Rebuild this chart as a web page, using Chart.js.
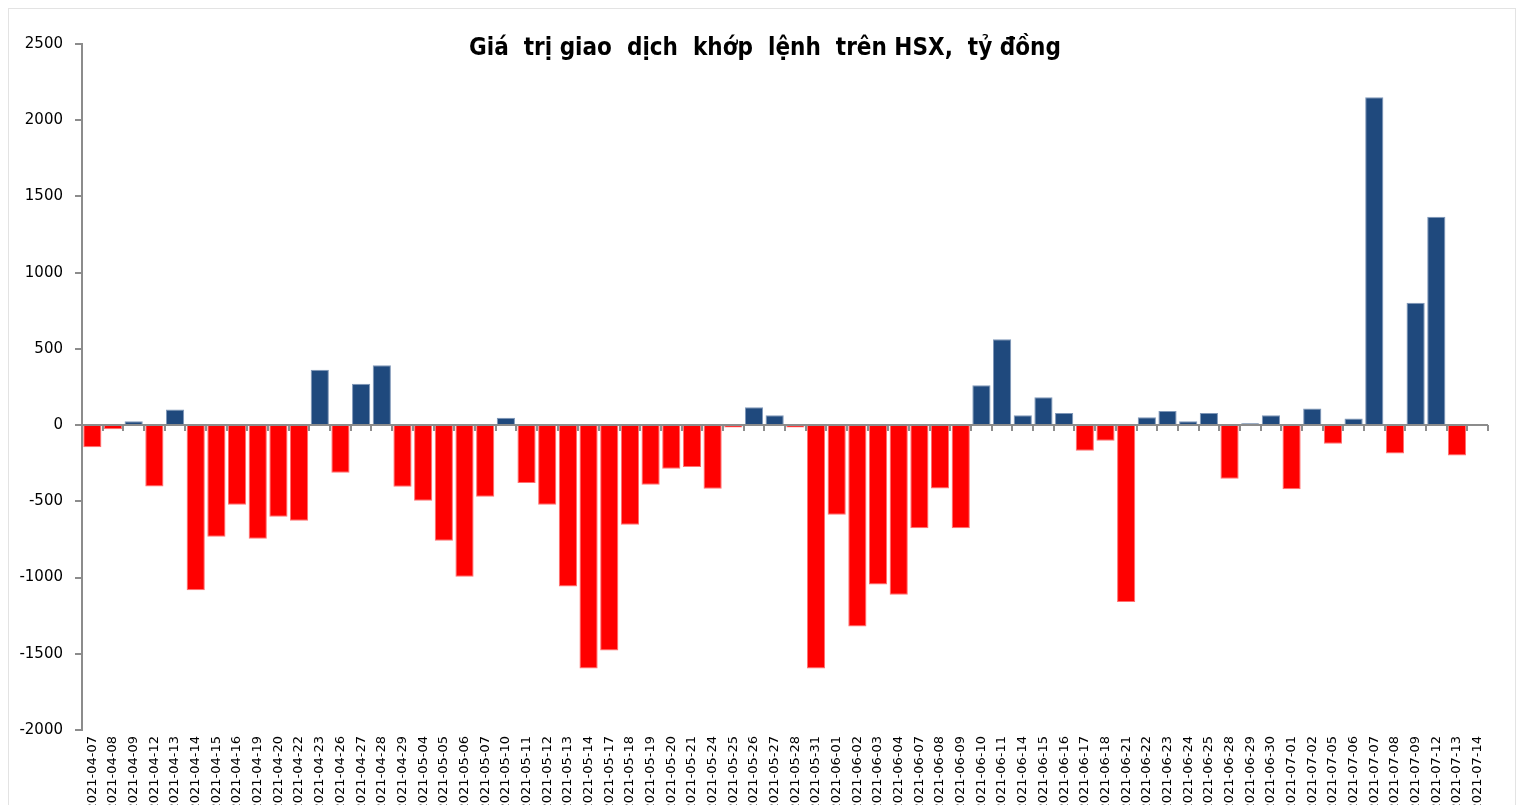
<!DOCTYPE html>
<html lang="vi">
<head>
<meta charset="utf-8">
<title>Giá trị giao dịch khớp lệnh trên HSX</title>
<script src="https://cdn.jsdelivr.net/npm/chart.js@4.4.0/dist/chart.umd.min.js"></script>
<style>
    html, body {
        margin: 0;
        padding: 0;
        background: #fff;
        overflow: hidden;
    }
    .wrap {
        position: relative;
        width: 1523px;
        height: 805px;
    }
    .frame {
        position: absolute;
        left: 8px;
        top: 8px;
        width: 1508px;
        height: 820px;
        border: 1px solid #e3e3e3;
        box-sizing: border-box;
    }
    .chart-title {
        position: absolute;
        left: 0;
        width: 1530px;
        top: 33px;
        text-align: center;
        font-family: "DejaVu Sans Condensed", "DejaVu Sans", sans-serif;
        font-weight: bold;
        font-size: 24px;
        white-space: pre;
        color: #000;
    }
</style>
</head>
<body>
<div class="wrap">
    <div class="frame"></div>
    <canvas id="hsxChart"></canvas>
    <div class="chart-title">Giá  trị giao  dịch  khớp  lệnh  trên HSX,  tỷ đồng</div>
</div>
<script>
// Trading days (x categories)
const dates = [
    '2021-04-07', '2021-04-08', '2021-04-09', '2021-04-12', '2021-04-13', '2021-04-14',
    '2021-04-15', '2021-04-16', '2021-04-19', '2021-04-20', '2021-04-22', '2021-04-23',
    '2021-04-26', '2021-04-27', '2021-04-28', '2021-04-29', '2021-05-04', '2021-05-05',
    '2021-05-06', '2021-05-07', '2021-05-10', '2021-05-11', '2021-05-12', '2021-05-13',
    '2021-05-14', '2021-05-17', '2021-05-18', '2021-05-19', '2021-05-20', '2021-05-21',
    '2021-05-24', '2021-05-25', '2021-05-26', '2021-05-27', '2021-05-28', '2021-05-31',
    '2021-06-01', '2021-06-02', '2021-06-03', '2021-06-04', '2021-06-07', '2021-06-08',
    '2021-06-09', '2021-06-10', '2021-06-11', '2021-06-14', '2021-06-15', '2021-06-16',
    '2021-06-17', '2021-06-18', '2021-06-21', '2021-06-22', '2021-06-23', '2021-06-24',
    '2021-06-25', '2021-06-28', '2021-06-29', '2021-06-30', '2021-07-01', '2021-07-02',
    '2021-07-05', '2021-07-06', '2021-07-07', '2021-07-08', '2021-07-09', '2021-07-12',
    '2021-07-13', '2021-07-14'
];

// Net matched value, billion VND
const netValues = [
    -145, -27, 25, -403, 103, -1084,
    -732, -523, -745, -601, -627, 363,
    -313, 272, 392, -405, -496, -758,
    -994, -470, 48, -380, -523, -1059,
    -1597, -1479, -654, -392, -287, -274,
    -418, -15, 117, 64, -15, -1597,
    -588, -1321, -1046, -1112, -677, -415,
    -677, 262, 563, 65, 183, 79,
    -168, -103, -1161, 52, 92, 26,
    79, -352, 13, 65, -420, 109,
    -122, 44, 2150, -187, 803, 1367,
    -200, null
];

// Y axis ticks
const yMin = -2000;
const yMax = 2500;
const yStep = 500;

const BUY_COLOR = '#1F497D';
const SELL_COLOR = '#FF0000';
const AXIS_COLOR = '#8C8C8C';

// Zero line with category tick marks (Excel style axis crossing at 0)
const zeroAxisPlugin = {
    id: 'zeroAxis',
    afterDatasetsDraw(chart) {
        const { ctx, chartArea, scales } = chart;
        const x = scales.x;
        const y0 = scales.y.getPixelForValue(0);
        const step = (chartArea.right - chartArea.left) / dates.length;
        ctx.save();
        ctx.strokeStyle = AXIS_COLOR;
        ctx.lineWidth = 2;
        ctx.beginPath();
        ctx.moveTo(chartArea.left, y0);
        ctx.lineTo(chartArea.right, y0);
        for (let i = 1; i <= dates.length; i++) {
            const bx = Math.round(x.getPixelForValue(i - 1) + step / 2);
            ctx.moveTo(bx, y0);
            ctx.lineTo(bx, y0 + 6);
        }
        ctx.stroke();
        ctx.restore();
    }
};

const ctx = document.getElementById('hsxChart');
new Chart(ctx, {
    type: 'bar',
    data: {
        labels: dates,
        datasets: [{
            label: 'Giá trị giao dịch khớp lệnh',
            data: netValues,
            backgroundColor: netValues.map(v => v >= 0 ? BUY_COLOR : SELL_COLOR),
            borderColor: netValues.map(v => v >= 0 ? '#7f97b8' : '#ff7070'),
            borderWidth: 1,
            barPercentage: 1,
            categoryPercentage: 0.88
        }]
    },
    options: {
        responsive: true,
        maintainAspectRatio: false,
        animation: false,
        layout: {
            padding: { top: 44, right: 35, bottom: 0, left: 0 }
        },
        plugins: {
            legend: { display: false },
            title: { display: false },
            tooltip: { enabled: true }
        },
        scales: {
            x: {
                grid: { display: false, drawTicks: false },
                border: { display: false },
                ticks: {
                    autoSkip: false,
                    minRotation: 90,
                    maxRotation: 90,
                    padding: 6,
                    color: '#000',
                    font: { family: 'DejaVu Sans', size: 13 }
                },
                afterFit(scale) {
                    scale.height = 75;
                }
            },
            y: {
                min: yMin,
                max: yMax,
                grid: {
                    display: true,
                    drawOnChartArea: false,
                    drawTicks: true,
                    tickLength: 7,
                    color: AXIS_COLOR,
                    lineWidth: 2
                },
                border: { display: true, color: AXIS_COLOR, width: 2 },
                ticks: {
                    stepSize: yStep,
                    padding: 12,
                    color: '#000',
                    font: { family: 'DejaVu Sans', size: 15 },
                    callback: function(value) {
                        return String(value);
                    }
                },
                afterFit(scale) {
                    scale.width = 82;
                }
            }
        }
    },
    plugins: [zeroAxisPlugin]
});
</script>
</body>
</html>
